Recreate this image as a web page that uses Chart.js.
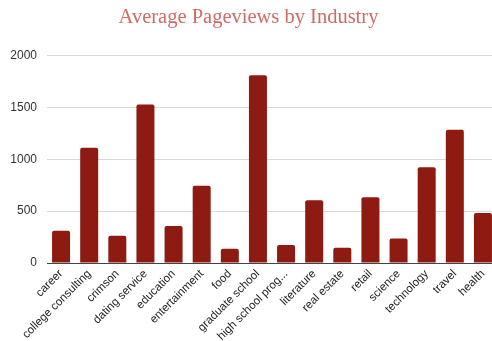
<!DOCTYPE html>
<html>
<head>
<meta charset="utf-8">
<script src="https://cdn.jsdelivr.net/npm/chart.js@4"></script>
<style>
  html, body { margin: 0; padding: 0; background: #fff; overflow: hidden; }
  #wrap { width: 497px; height: 341px; }
</style>
</head>
<body>
<div id="wrap"><canvas id="industryChart"></canvas></div>
<script>
// Categories and values
const industries = [
    'career', 'college consulting', 'crimson', 'dating service', 'education',
    'entertainment', 'food', 'graduate school', 'high school prog...', 'literature',
    'real estate', 'retail', 'science', 'technology', 'travel', 'health'
];
const pageviews = [310, 1112, 263, 1529, 356, 744, 138, 1811, 173, 606, 147, 635, 237, 923, 1285, 481];
const yTicks = [0, 500, 1000, 1500, 2000];

const ctx = document.getElementById('industryChart').getContext('2d');
const industryChart = new Chart(ctx, {
    type: 'bar',
    data: {
        labels: industries,
        datasets: [{
            label: 'Average Pageviews',
            data: pageviews,
            backgroundColor: '#8d1b12',
            borderRadius: { topLeft: 2, topRight: 2 },
            borderSkipped: 'bottom',
            categoryPercentage: 0.64,
            barPercentage: 1
        }]
    },
    options: {
        responsive: true,
        maintainAspectRatio: false,
        animation: false,
        layout: { padding: { top: 0, right: 0, bottom: 0, left: 0 } },
        plugins: {
            legend: { display: false },
            tooltip: { enabled: false },
            title: {
                display: true,
                text: 'Average Pageviews by Industry',
                color: '#cf6b66',
                font: { family: '"Liberation Serif", serif', size: 20.5, weight: 'normal' },
                padding: { top: 5, bottom: 26 }
            }
        },
        scales: {
            y: {
                min: 0,
                max: 2000,
                afterBuildTicks: function(axis) {
                    axis.ticks = yTicks.map(v => ({ value: v }));
                },
                afterFit: function(axis) { axis.width = 47; },
                border: { display: false },
                grid: { color: '#d9d9d9', drawTicks: false },
                ticks: {
                    color: '#333',
                    padding: 10,
                    callback: function(value) { return String(value); },
                    font: { family: '"Liberation Sans", Arial, sans-serif', size: 12 }
                }
            },
            x: {
                afterFit: function(axis) { axis.height = 78; },
                border: { display: true, color: '#444' },
                grid: { display: false, drawTicks: false },
                ticks: {
                    color: '#222',
                    padding: 4,
                    autoSkip: false,
                    minRotation: 45,
                    maxRotation: 45,
                    font: { family: '"Liberation Sans", Arial, sans-serif', size: 11.5 }
                }
            }
        }
    }
});
</script>
</body>
</html>
